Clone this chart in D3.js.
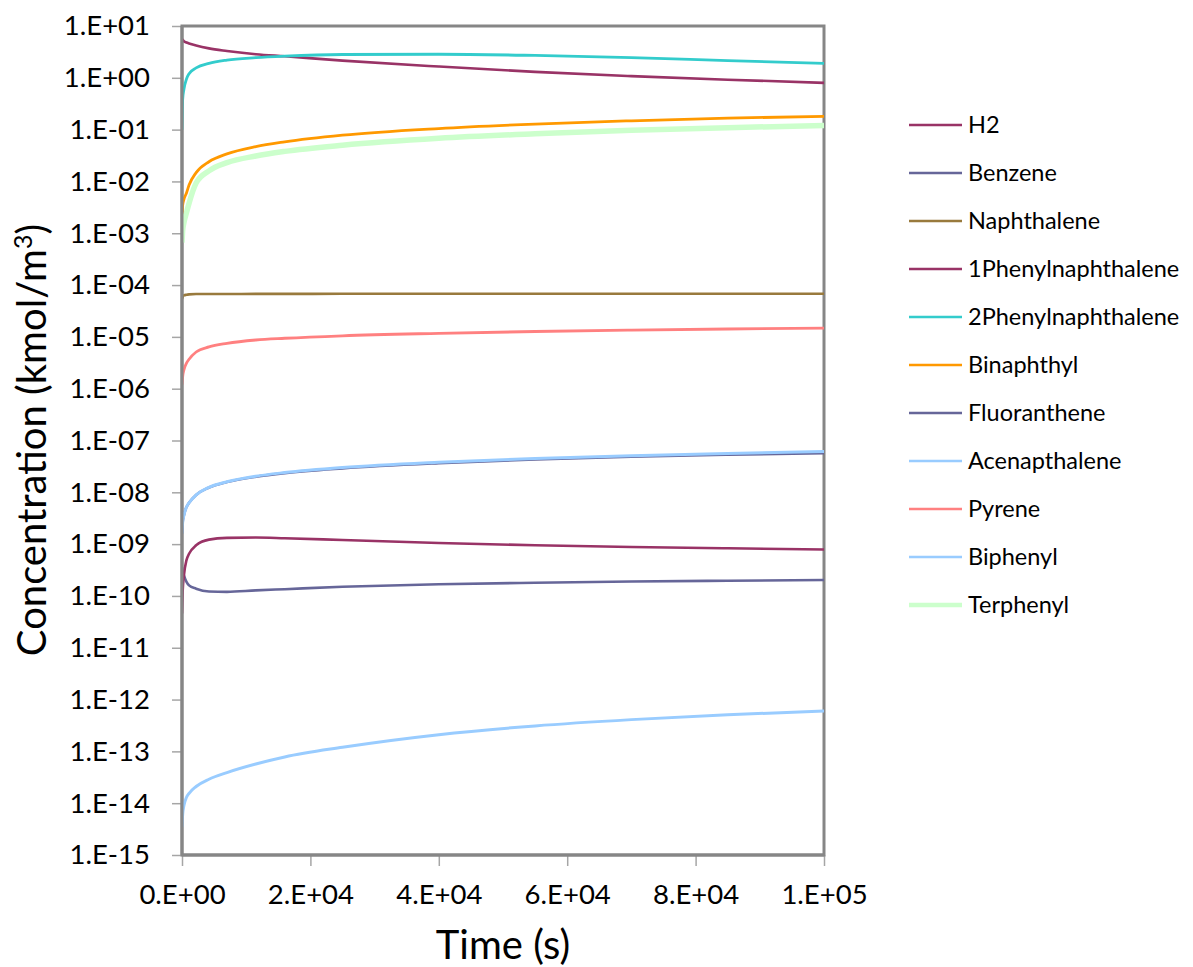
<!DOCTYPE html>
<html><head><meta charset="utf-8">
<script src="https://cdn.jsdelivr.net/npm/d3@7"></script>
<style>
html,body{margin:0;padding:0;background:#fff;}
text{font-family:Lato, "Open Sans", sans-serif;fill:#000;}
</style></head>
<body><svg id="c" width="1193" height="967"></svg>
<script>
const times = [0, 100, 300, 700, 1100, 2200, 4200, 7000, 11500, 16000, 25000, 40000, 55000, 70000, 85000, 100000];
const seriesNames = ["H2","Benzene","Naphthalene","1Phenylnaphthalene","2Phenylnaphthalene","Binaphthyl","Fluoranthene","Acenapthalene","Pyrene","Biphenyl","Terphenyl"];
const seriesColors = ["#993366","#666699","#997A3D","#993366","#33CCCC","#FF9900","#666699","#99CCFF","#FF8080","#99CCFF","#CCFFCC"];
const seriesWidths = [2.6,2.6,2.6,2.6,2.8,2.8,2.6,3,2.8,3,5.5];
const H2 = [5.6,5.4,5.1,4.8,4.6,4.2,3.7,3.3,2.85,2.6,2.15,1.65,1.3,1.08,0.92,0.8];
const Benzene = [3.6e-10,3.0e-10,2.5e-10,1.87e-10,1.6e-10,1.38e-10,1.22e-10,1.2e-10,1.28e-10,1.35e-10,1.5e-10,1.68e-10,1.8e-10,1.9e-10,1.97e-10,2.03e-10];
const Naphthalene = [5.4e-5,5.9e-5,6.3e-5,6.5e-5,6.6e-5,6.7e-5,6.7e-5,6.7e-5,6.75e-5,6.75e-5,6.8e-5,6.8e-5,6.8e-5,6.8e-5,6.8e-5,6.8e-5];
const Phenylnaphthalene1 = [4.6e-11,1.2e-10,2.5e-10,4.9e-10,6.5e-10,9.5e-10,1.22e-9,1.32e-9,1.34e-9,1.3e-9,1.2e-9,1.05e-9,9.5e-10,8.8e-10,8.3e-10,7.9e-10];
const Phenylnaphthalene2 = [0.1,0.38,0.6,0.95,1.2,1.55,1.9,2.2,2.45,2.62,2.82,2.85,2.7,2.45,2.15,1.9];
const Binaphthyl = [0.0021,0.0035,0.0045,0.006,0.0085,0.0148,0.024,0.034,0.047,0.058,0.078,0.105,0.128,0.148,0.167,0.18];
const Fluoranthene = [1.6e-9,2.6e-9,3.6e-9,5.2e-9,6.3e-9,8.9e-9,1.24e-8,1.58e-8,2.0e-8,2.35e-8,2.9e-8,3.65e-8,4.3e-8,4.85e-8,5.3e-8,5.7e-8];
const Acenapthalene = [1.6e-9,2.6e-9,3.6e-9,5.2e-9,6.3e-9,8.9e-9,1.25e-8,1.6e-8,2.05e-8,2.4e-8,3.0e-8,3.8e-8,4.5e-8,5.1e-8,5.6e-8,6.1e-8];
const Pyrene = [1.2e-6,1.7e-6,2.3e-6,3.1e-6,3.7e-6,5.1e-6,6.4e-6,7.5e-6,8.7e-6,9.4e-6,1.05e-5,1.17e-5,1.27e-5,1.35e-5,1.42e-5,1.48e-5];
const Biphenyl = [3.5e-15,6e-15,9e-15,1.3e-14,1.55e-14,2.1e-14,2.9e-14,3.9e-14,5.7e-14,7.8e-14,1.2e-13,2.1e-13,3.1e-13,4.1e-13,5.1e-13,6.0e-13];
const Terphenyl = [6.6e-4,0.0011,0.0016,0.0025,0.0038,0.0093,0.016,0.023,0.031,0.038,0.05,0.068,0.083,0.097,0.109,0.12];
const seriesValues = [H2,Benzene,Naphthalene,Phenylnaphthalene1,Phenylnaphthalene2,Binaphthyl,Fluoranthene,Acenapthalene,Pyrene,Biphenyl,Terphenyl];
const xTicks = [0,20000,40000,60000,80000,100000];
const yTicks = [1e1,1e0,1e-1,1e-2,1e-3,1e-4,1e-5,1e-6,1e-7,1e-8,1e-9,1e-10,1e-11,1e-12,1e-13,1e-14,1e-15];

const svg = d3.select("#c");
const L=182,R=824,T=26,B=855;
const x = d3.scaleLinear().domain([0,100000]).range([L,R]);
const y = d3.scaleLog().domain([1e-15,10]).range([B,T]);

function sci(v){
  if(v===0) return "0.E+00";
  const e = Math.floor(Math.log10(v)+1e-9);
  const m = Math.round(v/Math.pow(10,e));
  const s = e<0?"-":"+";
  return m+".E"+s+String(Math.abs(e)).padStart(2,"0");
}

const ya = svg.append("g").attr("transform",`translate(${L},0)`)
  .call(d3.axisLeft(y).tickValues(yTicks).tickFormat(sci).tickSize(10).tickPadding(22));
ya.select(".domain").remove();
ya.selectAll("line").attr("stroke","#A6A6A6").attr("stroke-width",1.5);
ya.selectAll("text").style("font-size","27.5px").style("font-family","Lato");

const xa = svg.append("g").attr("transform",`translate(0,${B})`)
  .call(d3.axisBottom(x).tickValues(xTicks).tickFormat(sci).tickSize(11).tickPadding(18));
xa.select(".domain").remove();
xa.selectAll("line").attr("stroke","#A6A6A6").attr("stroke-width",1.5);
xa.selectAll("text").style("font-size","27.5px").style("font-family","Lato");

svg.append("rect").attr("x",L).attr("y",T).attr("width",R-L).attr("height",B-T)
  .attr("fill","none").attr("stroke","#868686").attr("stroke-width",3);

const line = d3.line().x((d,i)=>x(times[i])).y(d=>y(d)).curve(d3.curveMonotoneX);
svg.append("clipPath").attr("id","pc").append("rect").attr("x",L).attr("y",T-3).attr("width",R-L+3).attr("height",B-T+3);
const g = svg.append("g").attr("clip-path","url(#pc)");
seriesValues.forEach((vals,k)=>{
  g.append("path").attr("d",line(vals)).attr("fill","none")
   .attr("stroke",seriesColors[k]).attr("stroke-width",seriesWidths[k]);
});
svg.append("line").attr("x1",L).attr("x2",L).attr("y1",T).attr("y2",B).attr("stroke","#868686").attr("stroke-width",3);
svg.append("line").attr("x1",L).attr("x2",R).attr("y1",B).attr("y2",B).attr("stroke","#868686").attr("stroke-width",3);

const lg = svg.append("g");
seriesNames.forEach((n,k)=>{
  const yy = 125 + k*48;
  lg.append("line").attr("x1",909).attr("x2",962).attr("y1",yy).attr("y2",yy)
    .attr("stroke",seriesColors[k]).attr("stroke-width",k===10?4.5:2.6);
  lg.append("text").attr("x",968).attr("y",yy).attr("dy","0.36em")
    .style("font-size","23.5px").text(n);
});

svg.append("text").attr("x",503).attr("y",959).attr("text-anchor","middle")
  .style("font-size","40px").text("Time (s)");
const yt = svg.append("text").attr("transform","translate(46,440) rotate(-90)").attr("text-anchor","middle")
  .style("font-size","40px");
yt.append("tspan").text("Concentration (kmol/m");
yt.append("tspan").attr("dy","-14").style("font-size","25px").text("3");
yt.append("tspan").attr("dy","14").text(")");
</script></body></html>
